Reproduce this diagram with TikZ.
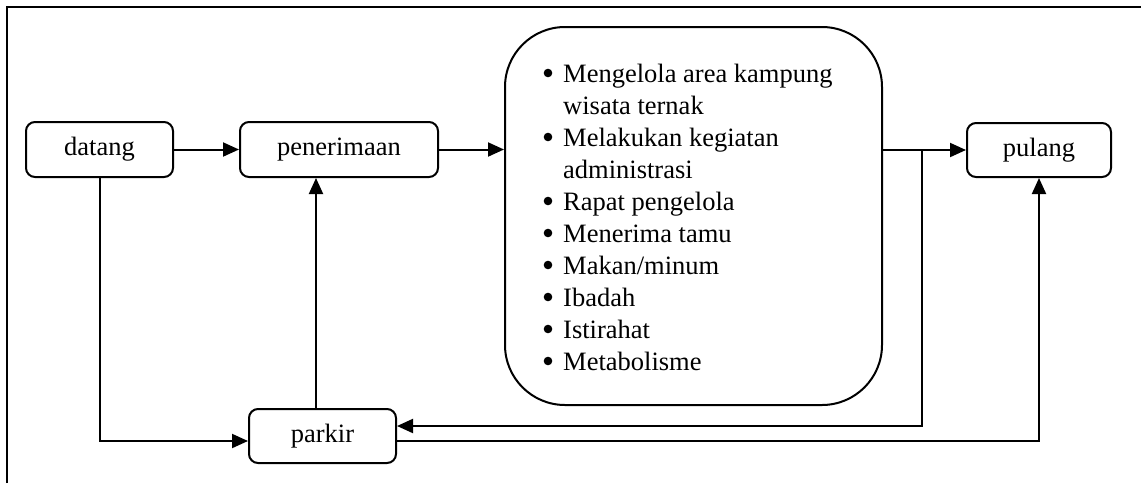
\documentclass[tikz,border=0pt]{standalone}
\usepackage{fontspec}
\setmainfont{Liberation Serif}
\usetikzlibrary{arrows.meta}
\begin{document}
\begin{tikzpicture}[x=1pt,y=-1pt,
  every node/.style={font=\fontsize{26.5}{32}\selectfont},
  stepbox/.style={draw, line width=2pt, rounded corners=9pt, inner sep=0pt},
  flow/.style={line width=2pt, -{Triangle[length=16pt,width=14pt]}}]
  \useasboundingbox (0,0) rectangle (1141,483);
  % outer frame (left and top edges)
  \draw[line width=2.5pt] (7,483) -- (7,7) -- (1141,7);

  % process boxes
  \node[stepbox, minimum width=147pt, minimum height=55pt] (datang) at (99.5,149.5) {datang};
  \node[stepbox, minimum width=198pt, minimum height=55pt] (terima) at (339,149.5) {penerimaan};
  \node[stepbox, minimum width=144pt, minimum height=54pt] (pulang) at (1039,150) {pulang};
  \node[stepbox, minimum width=147pt, minimum height=54pt] (parkir) at (322.5,436) {parkir};
  \node[draw, line width=2pt, rounded corners=60pt, minimum width=377pt, minimum height=378pt, inner sep=0pt] (act) at (693.5,216) {};

  % activity list (one line every 32pt, first baseline at y=82)
  \node[anchor=base west, inner sep=0pt] (list) at (563,82) {%
    \begin{tabular}[t]{@{}l@{}}
      Mengelola area kampung\\
      wisata ternak\\
      Melakukan kegiatan\\
      administrasi\\
      Rapat pengelola\\
      Menerima tamu\\
      Makan/minum\\
      Ibadah\\
      Istirahat\\
      Metabolisme
    \end{tabular}};
  % list bullets on the lines that start an item
  \foreach \row in {0,2,4,5,6,7,8,9}
    \fill (548,{73+32*\row}) circle (4.3pt);

  % helper points for the routed connectors
  \coordinate (lowrow) at (1040,441);
  \coordinate (backrow) at (922,426);
  \coordinate (upcol) at (316,300);
  \coordinate (split) at (922,150);

  % connectors
  \draw[flow] (datang.east) -- (terima.west);
  \draw[flow] (terima.east) -- (terima.east -| act.west);
  \draw[flow] (pulang.west -| act.east) -- (pulang.west);
  \draw[flow] (split) |- (parkir.east |- backrow);
  \draw[flow] (datang.south) |- (parkir.west |- lowrow);
  \draw[flow] (parkir.north -| upcol) -- (terima.south -| upcol);
  \draw[flow] (parkir.east |- lowrow) -| (pulang.south);
\end{tikzpicture}
\end{document}
